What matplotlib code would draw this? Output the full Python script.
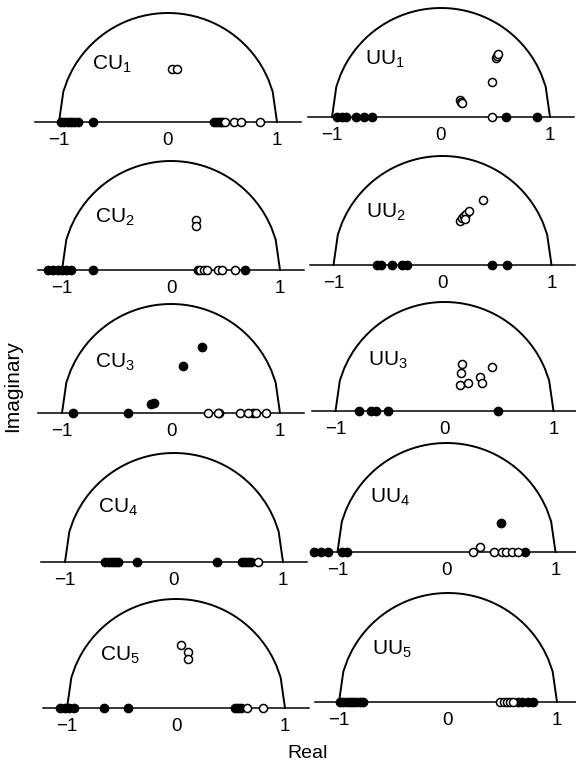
import numpy as np
import matplotlib
matplotlib.use("Agg")
import matplotlib.pyplot as plt

plt.rcParams["font.family"] = ["Liberation Sans", "DejaVu Sans"]
plt.rcParams["mathtext.fontset"] = "custom"
plt.rcParams["mathtext.rm"] = "Liberation Sans"

# roots (complex -> off the real axis)
cu1_filled = [-0.98, -0.95, -0.92, -0.89, -0.86, -0.83, -0.69, 0.42, 0.45, 0.48, 0.50]
cu1_open = [0.52, 0.61, 0.67, 0.84, 0.04 + 0.49j, 0.08 + 0.49j]

uu1_filled = [-0.95, -0.91, -0.87, -0.78, -0.71, -0.63, 0.60, 0.88]
uu1_open = [0.47, 0.47 + 0.32j, 0.50 + 0.54j, 0.51 + 0.56j, 0.52 + 0.58j,
            0.17 + 0.16j, 0.18 + 0.14j, 0.19 + 0.13j]

cu2_filled = [-1.13, -1.08, -1.04, -1.00, -0.96, -0.92, -0.72, 0.25, 0.68]
cu2_open = [0.27, 0.30, 0.33, 0.43, 0.47, 0.59, 0.23 + 0.46j, 0.23 + 0.40j]

uu2_filled = [-0.60, -0.56, -0.46, -0.37, -0.33, 0.45, 0.59]
uu2_open = [0.16 + 0.40j, 0.18 + 0.43j, 0.20 + 0.45j, 0.22 + 0.47j,
            0.24 + 0.50j, 0.21 + 0.42j, 0.37 + 0.60j]

cu3_filled = [-0.90, -0.39, 0.44, 0.75, 0.28 + 0.61j, 0.11 + 0.43j,
              -0.18 + 0.08j, -0.16 + 0.09j]
cu3_open = [0.34, 0.43, 0.63, 0.71, 0.78, 0.87]

uu3_filled = [-0.78, -0.67, -0.63, -0.52, 0.49]
uu3_open = [0.16 + 0.43j, 0.15 + 0.35j, 0.14 + 0.24j, 0.22 + 0.26j,
            0.33 + 0.31j, 0.34 + 0.26j, 0.44 + 0.40j]

cu4_filled = [-0.63, -0.60, -0.57, -0.54, -0.51, -0.34, 0.39, 0.62, 0.65, 0.68, 0.71]
cu4_open = [0.77]

uu4_filled = [-1.22, -1.15, -1.09, -0.96, -0.91, 0.72, 0.50 + 0.27j]
uu4_open = [0.24, 0.31 + 0.05j, 0.44, 0.51, 0.55, 0.60, 0.66]

cu5_filled = [-1.06, -1.02, -0.98, -0.94, -0.66, -0.44, 0.54, 0.57, 0.60]
cu5_open = [0.65, 0.80, 0.05 + 0.58j, 0.11 + 0.51j, 0.11 + 0.45j]

uu5_filled = [-0.99, -0.96, -0.93, -0.90, -0.87, -0.84, -0.81, -0.78,
              0.64, 0.68, 0.73, 0.78]
uu5_open = [0.48, 0.51, 0.54, 0.57, 0.60]

cu_labels = ["CU", "CU", "CU", "CU", "CU"]
uu_labels = ["UU", "UU", "UU", "UU", "UU"]
cu_sets = [(cu1_filled, cu1_open), (cu2_filled, cu2_open), (cu3_filled, cu3_open),
           (cu4_filled, cu4_open), (cu5_filled, cu5_open)]
uu_sets = [(uu1_filled, uu1_open), (uu2_filled, uu2_open), (uu3_filled, uu3_open),
           (uu4_filled, uu4_open), (uu5_filled, uu5_open)]

# panel placement in pixels (centre of circle, baseline), scan is a bit skewed
W, H = 576, 769
R = 109
left_cx = [168, 171, 171, 174, 176]
left_by = [122, 270, 413, 562, 708]
right_cx = [441, 442.5, 444.5, 446.5, 448]
right_by = [117, 265, 411, 552, 702]
label_y = [0.53, 0.48, 0.47, 0.50, 0.48]

XL, XR, YB, YT = -1.22, 1.22, -0.2, 1.06

fig = plt.figure(figsize=(W / 100, H / 100), dpi=100)


def panel(cx, by, name, idx, filled, opened):
    l = (cx + XL * R) / W
    b = 1 - (by - YB * R) / H
    w = (XR - XL) * R / W
    h = (YT - YB) * R / H
    ax = fig.add_axes([l, b, w, h])
    ax.set_xlim(XL, XR)
    ax.set_ylim(YB, YT)
    ax.patch.set_alpha(0)
    for s in ["top", "right", "left"]:
        ax.spines[s].set_visible(False)
    ax.spines["bottom"].set_position(("data", 0))
    ax.spines["bottom"].set_linewidth(1.1)
    ax.set_yticks([])
    ax.set_xticks([-1, 0, 1])
    ax.set_xticklabels(["\u22121", "0", "1"], fontsize=13.5)
    ax.tick_params(axis="x", length=0, pad=7)

    xs = np.linspace(-1, 1, 51)
    ax.plot(xs, np.sqrt(np.clip(1 - xs ** 2, 0, None)), color="black", lw=1.4)

    f = np.array(filled, dtype=complex)
    o = np.array(opened, dtype=complex)
    ax.plot(f.real, f.imag, "o", ms=6, color="black", clip_on=False, zorder=3)
    ax.plot(o.real, o.imag, "o", ms=5.8, mfc="white", mec="black", mew=1.1,
            clip_on=False, zorder=4)
    ax.text(-0.70, label_y[idx], r"$\mathrm{%s}_{%d}$" % (name, idx + 1),
            fontsize=15, ha="left", va="center")


for i in range(5):
    panel(left_cx[i], left_by[i], cu_labels[i], i, *cu_sets[i])
    panel(right_cx[i], right_by[i], uu_labels[i], i, *uu_sets[i])

fig.text(13 / W, 1 - 386 / H, "Imaginary", rotation=90, fontsize=15,
         ha="center", va="center")
fig.text(308 / W, 1 - 754 / H, "Real", fontsize=14, ha="center", va="center")

fig.savefig("out.png", dpi=100)
